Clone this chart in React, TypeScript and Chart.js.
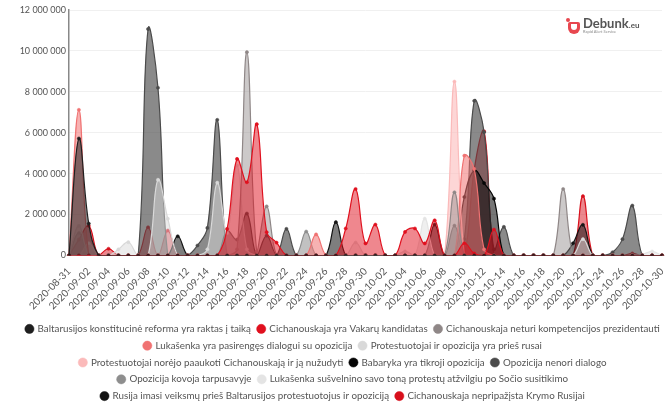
import React, { useEffect, useRef } from 'react';
import { Chart, registerables } from 'chart.js';

Chart.register(...registerables);

const dates = [
  '2020-08-31', '2020-09-01', '2020-09-02', '2020-09-03', '2020-09-04', '2020-09-05', '2020-09-06', '2020-09-07', '2020-09-08', '2020-09-09',
  '2020-09-10', '2020-09-11', '2020-09-12', '2020-09-13', '2020-09-14', '2020-09-15', '2020-09-16', '2020-09-17', '2020-09-18', '2020-09-19',
  '2020-09-20', '2020-09-21', '2020-09-22', '2020-09-23', '2020-09-24', '2020-09-25', '2020-09-26', '2020-09-27', '2020-09-28', '2020-09-29',
  '2020-09-30', '2020-10-01', '2020-10-02', '2020-10-03', '2020-10-04', '2020-10-05', '2020-10-06', '2020-10-07', '2020-10-08', '2020-10-09',
  '2020-10-10', '2020-10-11', '2020-10-12', '2020-10-13', '2020-10-14', '2020-10-15', '2020-10-16', '2020-10-17', '2020-10-18', '2020-10-19',
  '2020-10-20', '2020-10-21', '2020-10-22', '2020-10-23', '2020-10-24', '2020-10-25', '2020-10-26', '2020-10-27', '2020-10-28', '2020-10-29',
  '2020-10-30',
];

const seriesNames = [
  'Baltarusijos konstitucinė reforma yra raktas į taiką',
  'Cichanouskaja yra Vakarų kandidatas',
  'Cichanouskaja neturi kompetencijos prezidentauti',
  'Lukašenka yra pasirengęs dialogui su opozicija',
  'Protestuotojai ir opozicija yra prieš rusai',
  'Protestuotojai norėjo paaukoti Cichanouskają ir ją nužudyti',
  'Babaryka yra tikroji opozicija',
  'Opozicija nenori dialogo',
  'Opozicija kovoja tarpusavyje',
  'Lukašenka sušvelnino savo toną protestų atžvilgiu po Sočio susitikimo',
  'Rusija imasi veiksmų prieš Baltarusijos protestuotojus ir opoziciją',
  'Cichanouskaja nepripažįsta Krymo Rusijai',
];

const seriesColors = [
  '#1f1f1f', '#e0101e', '#8f8787', '#f07272', '#d9d9d9', '#fbbaba',
  '#050505', '#4b4b4b', '#8e8e8e', '#e4e4e4', '#141414', '#d8101c',
];

const seriesAlpha = [0.55, 0.5, 0.45, 0.55, 0.5, 0.6, 0.55, 0.65, 0.55, 0.6, 0.55, 0.5];

// values per day, 2020-08-31 .. 2020-10-30
const reforma = [
  0, 5720000, 1560000, 0, 0, 0, 0, 0, 0, 0,
  0, 0, 0, 0, 0, 0, 0, 0, 0, 0,
  0, 0, 0, 0, 0, 0, 0, 0, 0, 0,
  0, 0, 0, 0, 0, 0, 0, 0, 0, 0,
  0, 0, 0, 0, 0, 0, 0, 0, 0, 0,
  0, 0, 0, 0, 0, 0, 0, 0, 0, 0,
  0,
];
const vakaruKandidatas = [
  0, 0, 0, 0, 0, 0, 0, 0, 0, 0,
  0, 0, 0, 0, 0, 0, 1300000, 4720000, 3580000, 6420000,
  1140000, 630000, 0, 0, 0, 0, 0, 0, 1320000, 3250000,
  590000, 1510000, 0, 0, 1150000, 1320000, 590000, 1720000, 0, 0,
  600000, 100000, 0, 1270000, 0, 0, 0, 0, 0, 0,
  0, 0, 0, 0, 0, 0, 0, 0, 0, 0,
  0,
];
const neturiKompetencijos = [
  0, 0, 0, 0, 0, 0, 0, 0, 0, 0,
  0, 0, 0, 0, 0, 0, 0, 300000, 9940000, 200000,
  2400000, 0, 0, 0, 0, 0, 0, 0, 0, 0,
  0, 0, 0, 0, 0, 0, 0, 0, 0, 3090000,
  0, 0, 0, 0, 0, 0, 0, 0, 0, 0,
  3250000, 0, 0, 0, 0, 0, 0, 0, 0, 0,
  0,
];
const pasirengesDialogui = [
  0, 7120000, 0, 0, 0, 0, 0, 0, 0, 0,
  0, 0, 0, 0, 0, 0, 0, 0, 0, 0,
  0, 0, 0, 0, 0, 1030000, 0, 0, 0, 0,
  0, 0, 0, 0, 0, 0, 0, 0, 0, 0,
  4880000, 4230000, 300000, 0, 0, 0, 0, 0, 0, 0,
  0, 0, 0, 0, 0, 0, 0, 0, 0, 0,
  0,
];
const priesRusai = [
  0, 1450000, 0, 0, 0, 300000, 650000, 0, 0, 3700000,
  1800000, 0, 0, 0, 300000, 3560000, 1100000, 4400000, 300000, 0,
  0, 0, 0, 0, 0, 0, 0, 0, 0, 630000,
  0, 0, 0, 0, 200000, 0, 0, 0, 0, 0,
  0, 0, 0, 0, 0, 0, 0, 0, 0, 0,
  0, 0, 800000, 0, 0, 0, 0, 0, 0, 0,
  0,
];
const norejoPaaukoti = [
  0, 0, 600000, 0, 0, 0, 0, 0, 0, 0,
  0, 0, 0, 0, 0, 0, 0, 0, 0, 0,
  0, 0, 0, 0, 0, 0, 0, 0, 0, 0,
  0, 0, 0, 0, 0, 0, 0, 0, 0, 8500000,
  0, 0, 0, 0, 0, 0, 0, 0, 0, 0,
  0, 0, 0, 0, 0, 0, 0, 0, 0, 0,
  0,
];
const babaryka = [
  0, 0, 0, 0, 0, 0, 0, 0, 0, 0,
  0, 0, 0, 0, 0, 0, 0, 0, 0, 0,
  0, 0, 0, 0, 0, 0, 0, 0, 0, 0,
  0, 0, 0, 0, 0, 0, 0, 0, 0, 0,
  2860000, 4160000, 3540000, 2780000, 0, 0, 0, 0, 0, 0,
  0, 0, 0, 0, 0, 0, 0, 0, 0, 0,
  0,
];
const nenoriDialogo = [
  0, 0, 0, 0, 0, 0, 0, 0, 11070000, 8200000,
  0, 0, 0, 490000, 1350000, 6630000, 0, 0, 0, 0,
  0, 0, 1300000, 0, 0, 0, 0, 0, 0, 0,
  0, 0, 0, 0, 0, 0, 0, 0, 0, 0,
  800000, 7560000, 6030000, 300000, 1400000, 0, 0, 0, 0, 0,
  0, 0, 0, 0, 0, 160000, 800000, 2440000, 0, 0,
  0,
];
const kovojaTarpusavyje = [
  0, 1100000, 0, 0, 0, 0, 0, 0, 0, 0,
  0, 0, 0, 0, 0, 0, 0, 0, 0, 0,
  0, 0, 0, 0, 1170000, 0, 0, 0, 0, 0,
  0, 0, 0, 0, 0, 0, 0, 0, 0, 0,
  0, 0, 0, 0, 0, 0, 0, 0, 0, 0,
  0, 0, 0, 0, 0, 0, 0, 0, 0, 0,
  0,
];
const susvelnino = [
  0, 0, 0, 0, 0, 0, 0, 0, 0, 0,
  0, 0, 0, 0, 0, 0, 0, 0, 0, 0,
  0, 0, 0, 0, 0, 0, 0, 0, 0, 0,
  0, 0, 0, 0, 0, 0, 1800000, 0, 0, 0,
  0, 0, 0, 0, 0, 0, 0, 0, 0, 0,
  0, 0, 0, 0, 0, 0, 0, 0, 50000, 200000,
  0,
];
const rusijaImasi = [
  0, 0, 0, 0, 0, 0, 0, 0, 0, 0,
  0, 940000, 0, 0, 0, 0, 1200000, 780000, 2050000, 0,
  970000, 0, 0, 0, 0, 0, 0, 1630000, 0, 0,
  0, 0, 0, 0, 0, 0, 0, 1510000, 0, 1460000,
  0, 0, 0, 0, 0, 0, 0, 0, 0, 0,
  0, 600000, 1500000, 0, 0, 0, 0, 0, 0, 0,
  0,
];
const krymo = [
  0, 780000, 1450000, 0, 330000, 0, 0, 0, 1380000, 0,
  1220000, 0, 0, 0, 0, 0, 0, 0, 0, 0,
  0, 0, 0, 0, 0, 0, 0, 0, 0, 0,
  0, 0, 0, 0, 0, 0, 0, 0, 0, 0,
  0, 4200000, 6070000, 0, 0, 0, 0, 0, 0, 0,
  0, 0, 2900000, 0, 0, 0, 0, 100000, 0, 0,
  0,
];

const seriesValues = [
  reforma, vakaruKandidatas, neturiKompetencijos, pasirengesDialogui, priesRusai, norejoPaaukoti,
  babaryka, nenoriDialogo, kovojaTarpusavyje, susvelnino, rusijaImasi, krymo,
];

const yTicks = [0, 2000000, 4000000, 6000000, 8000000, 10000000, 12000000];

function withAlpha(hex: string, a: number) {
  const r = parseInt(hex.slice(1, 3), 16);
  const g = parseInt(hex.slice(3, 5), 16);
  const b = parseInt(hex.slice(5, 7), 16);
  return `rgba(${r},${g},${b},${a})`;
}

function formatNum(v: number) {
  return String(v).replace(/\B(?=(\d{3})+(?!\d))/g, ' ');
}

export default function App() {
  const ref = useRef<HTMLCanvasElement | null>(null);

  useEffect(() => {
    if (!ref.current) return;
    const chart = new Chart(ref.current, {
      type: 'line',
      data: {
        labels: dates,
        datasets: seriesNames.map((name, i) => ({
          label: name,
          data: seriesValues[i],
          borderColor: seriesColors[i],
          backgroundColor: withAlpha(seriesColors[i], seriesAlpha[i]),
          pointBackgroundColor: seriesColors[i],
          pointBorderColor: seriesColors[i],
          pointRadius: 1.6,
          pointBorderWidth: 0.5,
          borderWidth: 1.2,
          fill: 'origin',
          tension: 0.4,
        })),
      },
      options: {
        animation: false,
        responsive: true,
        maintainAspectRatio: false,
        layout: { padding: { left: 10, right: 0, top: 10, bottom: 0 } },
        plugins: {
          tooltip: { enabled: false },
          legend: {
            position: 'bottom',
            labels: {
              usePointStyle: true,
              pointStyle: 'circle',
              boxWidth: 6.5,
              boxHeight: 6.5,
              padding: 7,
              color: '#555',
              font: { family: 'Lato', size: 9.8 },
            },
          },
        },
        scales: {
          x: {
            grid: { display: false },
            border: { display: false },
            afterFit: (scale: any) => {
              scale.paddingLeft = 30;
              scale.paddingRight = 6;
              scale.height = 61.5;
            },
            ticks: {
              autoSkip: false,
              maxRotation: 45,
              minRotation: 45,
              padding: 2,
              color: '#555',
              font: { family: 'Lato', size: 10 },
              callback: (_v: any, idx: number) => (idx % 2 === 0 ? dates[idx] : ''),
            },
          },
          y: {
            min: 0,
            max: 12000000,
            afterBuildTicks: (axis: any) => {
              axis.ticks = yTicks.map((v) => ({ value: v }));
            },
            afterFit: (scale: any) => {
              scale.width = 51;
            },
            grid: { color: '#f0f0f0', drawTicks: false },
            border: { display: true, color: '#888', width: 1.5 },
            ticks: {
              padding: 3,
              color: '#555',
              font: { family: 'Lato', size: 9 },
              callback: (v: any) => formatNum(Number(v)),
            },
          },
        },
      },
    });
    return () => chart.destroy();
  }, []);

  return (
    <div style={{ position: 'fixed', left: 0, top: 0, width: 670, height: 402, overflow: 'hidden', background: '#fff', fontFamily: 'Lato' }}>
      <div style={{ position: 'absolute', left: 8, top: 0, width: 660, height: 411 }}>
        <canvas ref={ref} />
      </div>
      <div style={{ position: 'absolute', left: 566, top: 17, display: 'flex', alignItems: 'center' }}>
        <div style={{ position: 'relative', width: 14, height: 16, marginRight: 3 }}>
          <div style={{ position: 'absolute', left: 0, top: 0, width: 4, height: 4, borderRadius: 2, background: '#e8474f' }} />
          <div style={{ position: 'absolute', left: 2, top: 4, width: 12, height: 12, borderRadius: '2px 2px 6px 6px', background: '#e8474f' }} />
          <div style={{ position: 'absolute', left: 5, top: 6, width: 6, height: 6, borderRadius: '0 0 3px 3px', background: '#fff' }} />
        </div>
        <div style={{ lineHeight: 1 }}>
          <div style={{ color: '#555', fontWeight: 700, fontSize: 13 }}>
            Debunk<span style={{ fontSize: 8 }}>.eu</span>
          </div>
          <div style={{ color: '#888', fontSize: 4 }}>Rapid Alert Service</div>
        </div>
      </div>
    </div>
  );
}
